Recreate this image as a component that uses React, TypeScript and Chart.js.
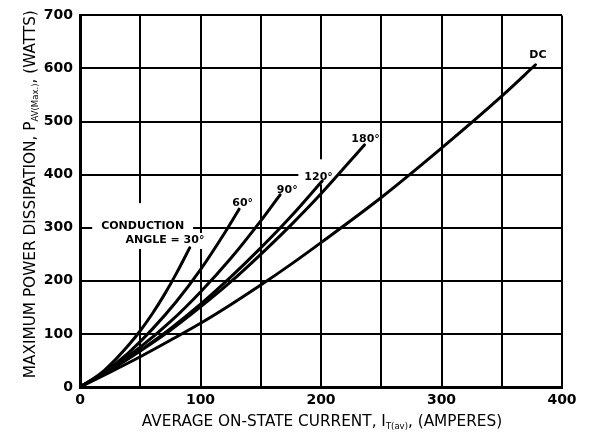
import React, { useEffect, useRef } from 'react';
import { Chart, registerables } from 'chart.js';

Chart.register(...registerables);

// ---- Data ----
const xTickValues = [0, 100, 200, 300, 400];
const yTickValues = [0, 100, 200, 300, 400, 500, 600, 700];

const current30 = [0, 10, 20, 30, 40, 50, 60, 70, 80, 91];
const power30 = [0, 14, 31, 53, 78, 106, 138, 174, 214, 262];

const current60 = [0, 20, 40, 60, 80, 100, 120, 132];
const power60 = [0, 28, 64, 109, 161, 221, 290, 335];

const current90 = [0, 25, 50, 75, 100, 125, 150, 166];
const power90 = [0, 34, 75, 123, 179, 242, 313, 362];

const current120 = [0, 25, 50, 75, 100, 125, 150, 175, 201];
const power120 = [0, 32, 69, 110, 156, 207, 262, 321, 388];

const current180 = [0, 25, 50, 75, 100, 125, 150, 175, 200, 236];
const power180 = [0, 32, 68, 107, 151, 198, 250, 305, 364, 456];

const currentDC = [0, 25, 50, 75, 100, 125, 150, 175, 200, 250, 300, 350, 378];
const powerDC = [0, 28, 57, 88, 120, 155, 192, 231, 272, 357, 450, 548, 607];

const curveLabels = [
  { text: 'DC', x: 380, y: 625, box: [2, 2, 2] },
  { text: '180°', x: 237, y: 466, box: [0, 0, 0] },
  { text: '120°', x: 198, y: 395, box: [6, 13, 2] },
  { text: '90°', x: 172, y: 371, box: [2, 2, 2] },
  { text: '60°', x: 135, y: 346, box: [2, 2, 2] },
  { text: 'CONDUCTION', x: 52, y: 303, box: [9, 18, 2] },
  { text: 'ANGLE = 30°', x: 70.5, y: 277, box: [9, 2, 4] },
];

const xTitleParts = ['AVERAGE ON-STATE CURRENT, I', 'T(av)', ', (AMPERES)'];
const yTitleParts = ['MAXIMUM POWER DISSIPATION, P', 'AV(Max.)', ', (WATTS)'];

const toPoints = (xs: number[], ys: number[]) => xs.map((x, i) => ({ x, y: ys[i] }));

const TICK_FONT = { family: 'DejaVu Sans', size: 14, weight: 'bold' as const };
const LABEL_FONT = 'bold 11px "DejaVu Sans"';
const TITLE_FONT = '15.3px "DejaVu Sans"';
const SUB_FONT = '8.5px "DejaVu Sans"';

function drawSubTitle(ctx: CanvasRenderingContext2D, parts: string[], cx: number, cy: number) {
  ctx.font = TITLE_FONT;
  const w0 = ctx.measureText(parts[0]).width;
  const w2 = ctx.measureText(parts[2]).width;
  ctx.font = SUB_FONT;
  const w1 = ctx.measureText(parts[1]).width;
  const total = w0 + w1 + w2;
  let x = cx - total / 2;
  ctx.textBaseline = 'alphabetic';
  ctx.textAlign = 'left';
  ctx.fillStyle = '#000';
  ctx.font = TITLE_FONT;
  ctx.fillText(parts[0], x, cy + 5.5);
  x += w0;
  ctx.font = SUB_FONT;
  ctx.fillText(parts[1], x, cy + 8.5);
  x += w1;
  ctx.font = TITLE_FONT;
  ctx.fillText(parts[2], x, cy + 5.5);
}

const annotationPlugin = {
  id: 'annotations',
  beforeDatasetsDraw(chart: any) {
    const ctx = chart.ctx as CanvasRenderingContext2D;
    const xs = chart.scales.x;
    const ys = chart.scales.y;
    ctx.save();
    ctx.font = LABEL_FONT;
    ctx.fillStyle = '#fff';
    for (const l of curveLabels) {
      const [px, pt, pb] = l.box;
      if (!px && !pt && !pb) continue;
      const w = ctx.measureText(l.text).width;
      const cx = xs.getPixelForValue(l.x);
      const cy = ys.getPixelForValue(l.y);
      ctx.fillRect(cx - w / 2 - px, cy - 5 - pt, w + 2 * px, 10 + pt + pb);
    }
    ctx.restore();
  },
  afterDraw(chart: any) {
    const ctx = chart.ctx as CanvasRenderingContext2D;
    const xs = chart.scales.x;
    const ys = chart.scales.y;
    ctx.save();
    ctx.font = LABEL_FONT;
    ctx.fillStyle = '#000';
    ctx.textAlign = 'center';
    ctx.textBaseline = 'middle';
    for (const l of curveLabels) {
      ctx.fillText(l.text, xs.getPixelForValue(l.x), ys.getPixelForValue(l.y));
    }
    // axis titles
    const area = chart.chartArea;
    drawSubTitle(ctx, xTitleParts, (area.left + area.right) / 2 + 1, 420);
    ctx.save();
    ctx.translate(29, (area.top + area.bottom) / 2 - 7);
    ctx.rotate(-Math.PI / 2);
    drawSubTitle(ctx, yTitleParts, 0, 0);
    ctx.restore();
    ctx.restore();
  },
};

export default function App() {
  const ref = useRef<HTMLCanvasElement | null>(null);
  useEffect(() => {
    if (!ref.current) return;
    const line = (xs: number[], ys: number[]) => ({
      data: toPoints(xs, ys),
      borderColor: '#000',
      backgroundColor: '#000',
      borderWidth: 3,
      pointRadius: 0,
      fill: false,
      tension: 0.4,
      cubicInterpolationMode: 'monotone' as const,
      borderCapStyle: 'round' as const,
    });
    const chart = new Chart(ref.current, {
      type: 'line',
      data: {
        datasets: [
          { label: '30°', ...line(current30, power30) },
          { label: '60°', ...line(current60, power60) },
          { label: '90°', ...line(current90, power90) },
          { label: '120°', ...line(current120, power120) },
          { label: '180°', ...line(current180, power180) },
          { label: 'DC', ...line(currentDC, powerDC) },
        ],
      },
      options: {
        animation: false,
        responsive: false,
        layout: { padding: { top: 14, right: 31, left: 0, bottom: 0 } },
        plugins: { legend: { display: false }, tooltip: { enabled: false }, title: { display: false } },
        scales: {
          x: {
            type: 'linear',
            min: 0,
            max: 400,
            ticks: {
              stepSize: 50,
              autoSkip: false,
              maxRotation: 0,
              color: '#000',
              font: TICK_FONT,
              padding: 5,
              callback: (v: any) => (xTickValues.includes(Number(v)) ? String(v) : ''),
            },
            grid: { color: '#000', lineWidth: 2, drawTicks: false },
            border: { display: true, color: '#000', width: 3 },
            afterFit: (s: any) => { s.height = 51; },
          },
          y: {
            type: 'linear',
            min: 0,
            max: 700,
            ticks: {
              stepSize: 100,
              color: '#000',
              font: TICK_FONT,
              padding: 7,
              callback: (v: any) => (yTickValues.includes(Number(v)) ? String(v) : ''),
            },
            grid: { color: '#000', lineWidth: 2, drawTicks: false },
            border: { display: true, color: '#000', width: 3 },
            afterFit: (s: any) => { s.width = 80; },
          },
        },
      },
      plugins: [annotationPlugin],
    });
    return () => chart.destroy();
  }, []);
  return (
    <div style={{ position: 'absolute', left: 0, top: 0, width: 593, height: 438, background: '#fff' }}>
      <canvas ref={ref} width={593} height={438} style={{ display: 'block' }} />
    </div>
  );
}
